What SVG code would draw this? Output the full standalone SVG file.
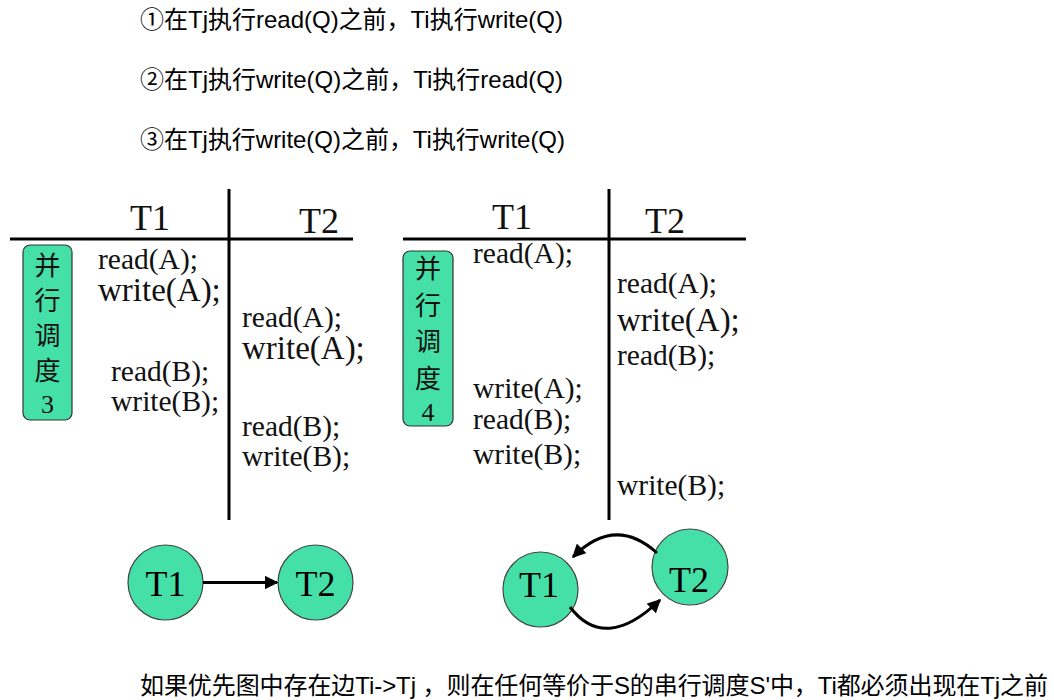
<svg xmlns="http://www.w3.org/2000/svg" width="1054" height="700" viewBox="0 0 1054 700">
<defs>
<style>
.cap{font-family:"Liberation Sans","Noto Sans CJK SC",sans-serif;font-size:24px;fill:#000}
.ser{font-family:"Liberation Serif","Noto Serif CJK SC","Noto Sans CJK SC",serif;fill:#111}
.op{font-size:29.5px}
.opb{font-size:33px}
.hd{font-size:36px}
.grid{stroke:#000;stroke-width:3;fill:none}
.tag{fill:#44e0a8;stroke:#333;stroke-width:1.2}
.tagt{font-family:"Noto Sans CJK SC","Liberation Serif",serif;font-size:26px;fill:#111;text-anchor:middle}
.node{fill:#44e0a8;stroke:#444;stroke-width:1.2}
.nodet{font-family:"Liberation Serif",serif;font-size:36px;fill:#000;text-anchor:middle}
.edge{stroke:#000;stroke-width:3;fill:none}
</style>
<marker id="ah" viewBox="0 0 10 10" refX="9" refY="5" markerWidth="4.5" markerHeight="4.5" orient="auto" markerUnits="strokeWidth">
<path d="M0,0 L10,5 L0,10 z" fill="#000"/>
</marker>
</defs>
<rect width="1054" height="700" fill="#fff"/>

<g id="rules">
<text class="cap" x="140" y="28" textLength="423">①在Tj执行read(Q)之前，Ti执行write(Q)</text>
<text class="cap" x="140" y="88" textLength="423">②在Tj执行write(Q)之前，Ti执行read(Q)</text>
<text class="cap" x="140" y="148" textLength="425">③在Tj执行write(Q)之前，Ti执行write(Q)</text>
</g>

<g id="schedule3">
<line class="grid" x1="10" y1="239" x2="353" y2="239"/>
<line class="grid" x1="229" y1="189" x2="229" y2="520"/>
<text class="ser hd" x="130" y="230">T1</text>
<text class="ser hd" x="299" y="233">T2</text>
<g id="tag3">
<rect class="tag" x="23" y="245" width="49" height="175" rx="7"/>
<text class="tagt" x="47.5" y="275">并</text>
<text class="tagt" x="47.5" y="310">行</text>
<text class="tagt" x="47.5" y="345">调</text>
<text class="tagt" x="47.5" y="380">度</text>
<text class="tagt" x="47.5" y="413" style="font-family:'Liberation Serif',serif">3</text>
</g>
<text class="ser op" x="98" y="269">read(A);</text>
<text class="ser opb" x="98" y="301">write(A);</text>
<text class="ser op" x="111" y="381">read(B);</text>
<text class="ser op" x="111" y="411">write(B);</text>
<text class="ser op" x="242" y="327">read(A);</text>
<text class="ser opb" x="242" y="359">write(A);</text>
<text class="ser op" x="242" y="436">read(B);</text>
<text class="ser op" x="242" y="466">write(B);</text>
</g>

<g id="schedule4">
<line class="grid" x1="403" y1="239" x2="746" y2="239"/>
<line class="grid" x1="609" y1="189" x2="609" y2="520"/>
<text class="ser hd" x="492" y="229">T1</text>
<text class="ser hd" x="645" y="233">T2</text>
<g id="tag4">
<rect class="tag" x="403" y="251" width="50" height="175" rx="7"/>
<text class="tagt" x="428" y="278">并</text>
<text class="tagt" x="428" y="315">行</text>
<text class="tagt" x="428" y="351">调</text>
<text class="tagt" x="428" y="388">度</text>
<text class="tagt" x="428" y="421" style="font-family:'Liberation Serif',serif">4</text>
</g>
<text class="ser op" x="473" y="263">read(A);</text>
<text class="ser op" x="473" y="398">write(A);</text>
<text class="ser op" x="473" y="429">read(B);</text>
<text class="ser op" x="473" y="464">write(B);</text>
<text class="ser op" x="617" y="293">read(A);</text>
<text class="ser opb" x="617" y="331">write(A);</text>
<text class="ser op" x="617" y="365">read(B);</text>
<text class="ser op" x="617" y="495">write(B);</text>
</g>

<g id="g1-T1">
<circle class="node" cx="165.5" cy="582.5" r="37.5"/>
<text class="nodet" x="165.5" y="596">T1</text>
</g>
<g id="g1-T2">
<circle class="node" cx="315.5" cy="582.5" r="37.5"/>
<text class="nodet" x="315.5" y="596">T2</text>
</g>
<g id="g2-T1">
<circle class="node" cx="540.5" cy="589.5" r="37.5"/>
<text class="nodet" x="539" y="597">T1</text>
</g>
<g id="g2-T2">
<circle class="node" cx="690" cy="567" r="38"/>
<text class="nodet" x="689" y="592">T2</text>
</g>

<g id="connectors">
<line class="edge" x1="203" y1="582.5" x2="277" y2="582.5" marker-end="url(#ah)"/>
<path class="edge" d="M657,553 Q615,515 573,557" marker-end="url(#ah)"/>
<path class="edge" d="M570,607 Q605,653 660,600" marker-end="url(#ah)"/>
</g>

<g id="footer">
<text class="cap" x="140" y="694" textLength="908">如果优先图中存在边Ti-&gt;Tj ，则在任何等价于S的串行调度S'中，Ti都必须出现在Tj之前</text>
</g>
</svg>
